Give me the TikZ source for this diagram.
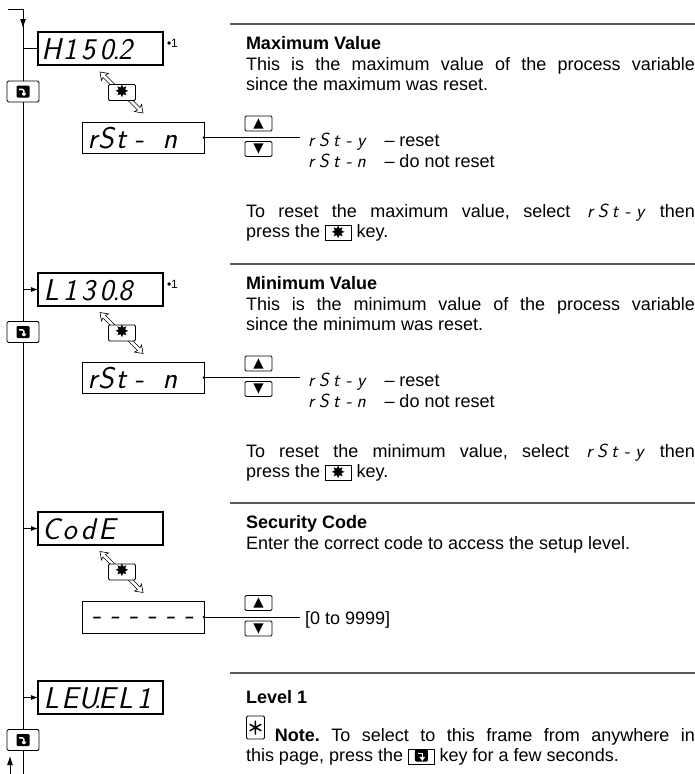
\documentclass[tikz,border=0pt]{standalone}
\usepackage{fontspec}
\setmainfont{Liberation Sans}
\newfontfamily\symfont{DejaVu Sans}
\usetikzlibrary{arrows.meta,calc}
\tolerance=9999
\hyphenpenalty=10000
\frenchspacing
\newcommand\bc[1]{\makebox[18.5pt][c]{#1}}
\newcommand\bone{\makebox[18.5pt][r]{1\hspace{2pt}}}
\newcommand\bdot{\makebox[0pt][c]{.}}
\newcommand\sgc[1]{\makebox[12.5pt][c]{#1}}
\newcommand\segsmall{\sffamily\itshape\fontsize{19}{19}\selectfont}
\newcommand\rsty{{\segsmall\sgc{r}\sgc{S}\sgc{t}\sgc{-}\sgc{y}}}
\newcommand\rstn{{\segsmall\sgc{r}\sgc{S}\sgc{t}\sgc{-}\sgc{n}}}
\newcommand\starsym{{\symfont\fontsize{17}{17}\selectfont ✸}}
\newcommand\upsym{{\symfont\fontsize{13.5}{13.5}\selectfont ▲}}
\newcommand\downsym{{\symfont\fontsize{13.5}{13.5}\selectfont ▼}}
\newcommand\reticon{\tikz[x=1pt,y=1pt,baseline=-6pt]{\fill[rounded corners=1.2pt] (-6.5,-6) rectangle (6.5,6);
  \draw[white,line width=1.5pt] (-3.8,2.2) -- (0.9,2.2) -- (0.9,-1.5);
  \fill[white] (-2.1,-1.3) -- (3.9,-1.3) -- (0.9,-5.4) -- cycle;}}
\newcommand\inlinestar{{\setlength\fboxsep{0pt}\setlength\fboxrule{0.8pt}\fbox{\makebox[25pt]{\rule[-2pt]{0pt}{14pt}\raisebox{-0.5pt}{\starsym}}}}}
\newcommand\inlineret{{\setlength\fboxsep{0pt}\setlength\fboxrule{0.8pt}\fbox{\makebox[25pt]{\rule[-2pt]{0pt}{14pt}\reticon}}}}
\newcommand\noteicon{\tikz[x=1pt,y=1pt,baseline=0pt]{\draw[line width=0.9pt, rounded corners=1.2pt] (0,2) rectangle (18,25);
  \draw[line width=1.5pt] (9,6.5) -- (9,20.5) (3.2,10.2) -- (14.8,16.8) (3.2,16.8) -- (14.8,10.2);}}

\begin{document}
\begin{tikzpicture}[x=1pt,y=-1pt,
  every node/.style={inner sep=0pt, outer sep=0pt},
  flow/.style={line width=0.8pt},
  bigdisp/.style={draw, line width=1.6pt, minimum width=125pt, minimum height=33pt, anchor=north west},
  smalldisp/.style={draw, line width=0.8pt, minimum width=122pt, minimum height=31pt, anchor=north west},
  segbig/.style={anchor=base west, font=\sffamily\itshape\fontsize{30}{30}\selectfont},
  keybox/.style={draw, line width=0.9pt, rounded corners=1.2pt, fill=white, minimum width=27pt, minimum height=15pt},
  starkey/.style={keybox, minimum height=16pt, text height=9pt, text depth=0pt},
  retbox/.style={draw, line width=0.9pt, rounded corners=1.5pt, fill=white, minimum width=32pt, minimum height=21pt},
  sepline/.style={line width=1.3pt, black!65},
  titletext/.style={anchor=base west, font=\bfseries\fontsize{18}{20.5}\selectfont},
  body/.style={anchor=base west, font=\fontsize{18}{20.5}\selectfont, text width=449pt, align=justify},
  opt/.style={anchor=base west, font=\fontsize{18}{20.5}\selectfont},
  footmark/.style={anchor=west, font=\fontsize{12}{12}\selectfont},
  arr/.style={flow, -{Latex[length=7pt,width=5pt]}},
  hollowarrow/.pic={\draw[line width=0.6pt, fill=white] (0,0) -- (8.5,1.4) -- (5.5,3.0) -- (16.1,13.6) -- (13.6,16.1) -- (3.0,5.5) -- (1.4,8.5) -- cycle;}
]
\useasboundingbox (0,0) rectangle (695,774);

% ---------- main flow line ----------
\coordinate (entry) at (8,9);
\coordinate (corner) at (23,9);
\coordinate (tiparr) at (23,28);
\coordinate (bottom) at (23,774);
\coordinate (backstart) at (10,774);
\coordinate (backtip) at (10,756);
\draw[flow] (corner) -- (bottom);
\draw[flow, -{Latex[length=9pt,width=6pt]}] (entry) -- (corner) -- (tiparr);
\draw[flow, -{Latex[length=9pt,width=6pt]}] (backstart) -- (backtip);

% ---------- section 1 : maximum ----------
\draw[sepline] (230,24) -- (695,24);
\node[titletext] (t1) at (246,49) {Maximum Value};
\node[body] (b1) at (246,70) {This is the maximum value of the process variable\linebreak since the maximum was reset.};
\node[opt] (o1) at (305,146) {\rsty\hspace{12pt} – reset};
\node[opt] (o2) at (305,167) {\rstn\hspace{12pt} – do not reset};
\node[body] (b2) at (246,217) {To reset the maximum value, select \rsty{} then\linebreak press the \inlinestar{} key.};

\node[bigdisp] (d1) at (38,32) {};
\node[segbig] (d1t) at (42,59) {\bc{H}\bone\bc{5}\bc{0}\bdot\bc{2}};
\node[footmark] (f1) at (167,43) {•1};
\draw[flow] (d1.west -| corner) -- (d1.west);
\coordinate (s1c) at (122,92.5);
\pic at ([shift={(-22,-20.5)}]s1c) {hollowarrow};
\pic[rotate=180] at ([shift={(21,20.5)}]s1c) {hollowarrow};
\node[starkey] (s1) at (s1c) {\starsym};
\node[smalldisp] (r1) at (82,122) {};
\node[segbig] (r1t) at (86,148) {\makebox[13pt]{r}\makebox[14pt]{S}\makebox[16pt]{t}\makebox[20pt]{-}\makebox[42pt]{n}};
\coordinate (r1end) at (300,137.5);
\draw[flow] (r1.east) -- (r1end);
\fill (r1.east) circle (1.5pt);
\node[keybox] (u1) at (258.5,123.5) {\upsym};
\node[keybox] (w1) at (258.5,149) {\downsym};
\node[retbox] (k1) at (23,91.5) {\reticon};

% ---------- section 2 : minimum ----------
\draw[sepline] (230,264) -- (695,264);
\node[titletext] (t2) at (246,289) {Minimum Value};
\node[body] (b3) at (246,310) {This is the minimum value of the process variable\linebreak since the minimum was reset.};
\node[opt] (o3) at (305,386) {\rsty\hspace{12pt} – reset};
\node[opt] (o4) at (305,407) {\rstn\hspace{12pt} – do not reset};
\node[body] (b4) at (246,457) {To reset the minimum value, select \rsty{} then\linebreak press the \inlinestar{} key.};

\node[bigdisp] (d2) at (38,273) {};
\node[segbig] (d2t) at (42,300) {\bc{L}\bone\bc{3}\bc{0}\bdot\bc{8}};
\node[footmark] (f2) at (167,284) {•1};
\draw[arr] (d2.west -| corner) -- (d2.west);
\coordinate (s2c) at (122,333);
\pic at ([shift={(-22,-20.5)}]s2c) {hollowarrow};
\pic[rotate=180] at ([shift={(21,20.5)}]s2c) {hollowarrow};
\node[starkey] (s2) at (s2c) {\starsym};
\node[smalldisp] (r2) at (82,362) {};
\node[segbig] (r2t) at (86,388) {\makebox[13pt]{r}\makebox[14pt]{S}\makebox[16pt]{t}\makebox[20pt]{-}\makebox[42pt]{n}};
\coordinate (r2end) at (300,377.5);
\draw[flow] (r2.east) -- (r2end);
\fill (r2.east) circle (1.5pt);
\node[keybox] (u2) at (258.5,363.5) {\upsym};
\node[keybox] (w2) at (258.5,389) {\downsym};
\node[retbox] (k2) at (23,332) {\reticon};

% ---------- section 3 : security code ----------
\draw[sepline] (230,503) -- (695,503);
\node[titletext] (t3) at (246,528) {Security Code};
\node[opt] (b5) at (246,549) {Enter the correct code to access the setup level.};
\node[opt] (o5) at (305,624) {[0 to 9999]};

\node[bigdisp] (d3) at (38,512) {};
\node[segbig] (d3t) at (42,539) {\bc{C}\bc{o}\bc{d}\bc{E}};
\draw[arr] (d3.west -| corner) -- (d3.west);
\coordinate (s3c) at (122,572);
\pic at ([shift={(-22,-20.5)}]s3c) {hollowarrow};
\pic[rotate=180] at ([shift={(21,20.5)}]s3c) {hollowarrow};
\node[starkey] (s3) at (s3c) {\starsym};
\node[smalldisp, minimum height=32pt] (r3) at (82,601) {};
\node[segbig] (r3t) at (87,624) {\bc{-}\bc{-}\bc{-}\bc{-}\bc{-}\bc{-}};
\coordinate (r3end) at (300,617);
\draw[flow] (r3.east) -- (r3end);
\fill (r3.east) circle (1.5pt);
\node[keybox] (u3) at (258.5,603) {\upsym};
\node[keybox] (w3) at (258.5,628.5) {\downsym};

% ---------- section 4 : level 1 ----------
\draw[sepline] (230,673) -- (695,673);
\node[titletext] (t4) at (246,703) {Level 1};
\node[body] (b6) at (246,741) {\noteicon\hspace{10pt}\textbf{Note.} To select to this frame from anywhere in\linebreak this page, press the \inlineret{} key for a few seconds.};

\node[bigdisp] (d4) at (38,681) {};
\node[segbig] (d4t) at (42,708) {\bc{L}\bc{E}\bc{U}\bdot\bc{E}\bc{L}\bone};
\draw[arr] (d4.west -| corner) -- (d4.west);
\node[retbox] (k3) at (23,740) {\reticon};
\end{tikzpicture}
\end{document}
